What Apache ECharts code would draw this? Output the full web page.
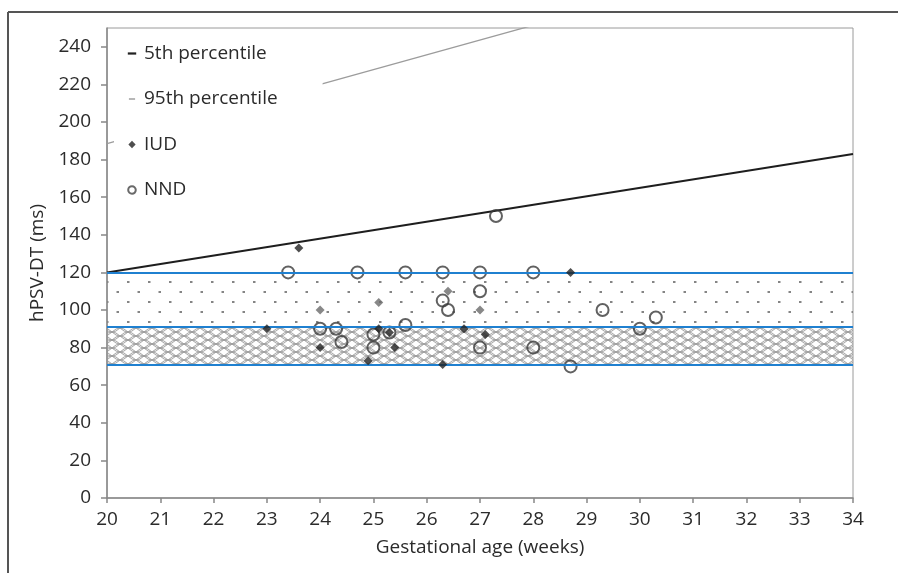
<!DOCTYPE html>
<html>
<head>
<meta charset="utf-8">
<script src="https://cdn.jsdelivr.net/npm/echarts@6/dist/echarts.min.js"></script>
<style>
html,body{margin:0;padding:0;background:#fff;}
#chart{width:898px;height:573px;}
</style>
</head>
<body>
<div id="chart"></div>
<script>
// ---- data ----
var xTicks = [20,21,22,23,24,25,26,27,28,29,30,31,32,33,34];
var yTicks = [0,20,40,60,80,100,120,140,160,180,200,220,240];
var pctAges = [20, 34];
var pct5 = [120, 183];
var pct95 = [188.5, 298.7];
var bandLines = [71, 91, 120];
var nndAge = [23.4, 24.7, 25.6, 26.3, 27.0, 28.0, 27.3, 26.3, 26.4, 27.0, 25.6, 27.0, 28.0, 29.3, 30.3, 30.0, 28.7, 24.0, 24.3, 24.4, 25.0, 25.0, 25.3];
var nndVal = [120, 120, 120, 120, 120, 120, 150, 105, 100, 110, 92, 80, 80, 100, 96, 90, 70, 90, 90, 83, 87, 80, 88];
var iudAge = [23.6, 23.0, 24.0, 24.9, 25.4, 25.1, 25.3, 26.7, 27.1, 26.3, 28.7];
var iudVal = [133, 90, 80, 73, 80, 90, 88, 90, 87, 71, 120];
var iudAge2 = [24.0, 25.1, 26.4, 27.0];
var iudVal2 = [100, 104, 110, 100];

function zip(a, b){ return a.map(function(v,i){ return [v, b[i]]; }); }

// ---- patterns ----
function dotPattern(){
  var c = document.createElement('canvas'); c.width = 21; c.height = 20;
  var g = c.getContext('2d');
  g.fillStyle = '#858585';
  g.fillRect(1, 1, 2.5, 2);
  g.fillRect(11.5, 11, 2.5, 2);
  return c;
}
function meshPattern(){
  var w = 16, h = 8;
  var c = document.createElement('canvas'); c.width = w; c.height = h;
  var g = c.getContext('2d');
  g.strokeStyle = '#9a9a9a'; g.lineWidth = 0.9;
  var centers = [[w/2,h/2],[0,0],[w,0],[0,h],[w,h]];
  centers.forEach(function(p){
    var cx = p[0], cy = p[1];
    g.beginPath();
    g.moveTo(cx - w/2, cy);
    g.quadraticCurveTo(cx, cy - h, cx + w/2, cy);
    g.quadraticCurveTo(cx, cy + h, cx - w/2, cy);
    g.stroke();
  });
  return c;
}

var font = 'Open Sans';
var fs = 19;
var txt = '#2b2b2b';
var chart = echarts.init(document.getElementById('chart'), null, {renderer:'canvas'});

var option = {
  animation: false,
  backgroundColor: '#fff',
  grid: {left:107, right:45, top:28, bottom:75, show:true, borderColor:'#9a9a9a', borderWidth:1, backgroundColor:'#fff'},
  graphic: [
    {type:'line', shape:{x1:8, y1:12, x2:898, y2:12}, style:{stroke:'#555', lineWidth:2}, z:100},
    {type:'line', shape:{x1:8, y1:12, x2:8, y2:573}, style:{stroke:'#555', lineWidth:2}, z:100}
  ],
  xAxis: {
    type:'value', min:20, max:34, interval:1,
    name:'Gestational age (weeks)', nameLocation:'middle', nameGap:40,
    nameTextStyle:{fontFamily:font, fontSize:fs, color:txt},
    axisLine:{show:true, lineStyle:{color:'#888', width:1.5}},
    axisTick:{show:true, length:5, lineStyle:{color:'#888', width:1.5}},
    axisLabel:{fontFamily:font, fontSize:fs, color:txt, margin:12, customValues: xTicks},
    splitLine:{show:false}
  },
  yAxis: {
    type:'value', min:0, max:250, interval:20,
    name:'hPSV-DT (ms)', nameLocation:'middle', nameGap:57,
    nameTextStyle:{fontFamily:font, fontSize:fs, color:txt},
    axisLine:{show:true, lineStyle:{color:'#888', width:1.5}},
    axisTick:{show:true, length:6, lineStyle:{color:'#888', width:1.5}, customValues: yTicks},
    axisLabel:{fontFamily:font, fontSize:fs, color:txt, margin:16, customValues: yTicks},
    splitLine:{show:false}
  },
  legend: {
    left:114, top:30, orient:'vertical', selectedMode:false,
    backgroundColor:'#fff', padding:[14, 45, 10, 10],
    itemWidth:14, itemHeight:14, itemGap:26.5,
    textStyle:{fontFamily:font, fontSize:fs, color:txt, lineHeight:19},
    data:[
      {name:'5th percentile', icon:'path://M0,0M10,10M2,4.2L8,4.2L8,5.8L2,5.8Z', itemStyle:{color:'#222', borderWidth:0}},
      {name:'95th percentile', icon:'path://M0,0M10,10M2.8,4.4L7.2,4.4L7.2,5.6L2.8,5.6Z', itemStyle:{color:'#aaa', borderWidth:0}},
      {name:'IUD', icon:'path://M0,0M10,10M5,2.4L7.6,5L5,7.6L2.4,5Z', itemStyle:{color:'#222', borderWidth:0}},
      {name:'NND', icon:'path://M0,0M10,10M5,2.3A2.7,2.7 0 1 1 4.99,2.3Z', itemStyle:{color:'rgba(0,0,0,0)', borderColor:'#444', borderWidth:2}}
    ]
  },
  series: [
    {
      name:'bands', type:'line', data:[], silent:true, z:1,
      markArea:{
        silent:true,
        data:[
          [{yAxis:bandLines[1], itemStyle:{color:{image:dotPattern(), repeat:'repeat'}}}, {yAxis:bandLines[2]}],
          [{yAxis:bandLines[0], itemStyle:{color:{image:meshPattern(), repeat:'repeat'}}}, {yAxis:bandLines[1]}]
        ]
      },
      markLine:{
        silent:true, symbol:'none', label:{show:false},
        lineStyle:{color:'#1f80d0', width:2, type:'solid'},
        data: bandLines.map(function(v){ return {yAxis:v}; })
      }
    },
    {
      name:'5th percentile', type:'line', data: zip(pctAges, pct5), showSymbol:false, symbol:'none',
      lineStyle:{color:'#1e1e1e', width:2}, itemStyle:{color:'#1e1e1e'}, z:3
    },
    {
      name:'95th percentile', type:'line', data: zip(pctAges, pct95), showSymbol:false, symbol:'none',
      lineStyle:{color:'#9c9c9c', width:1.3}, itemStyle:{color:'#9c9c9c'}, z:3
    },
    {
      name:'NND', type:'scatter', data: zip(nndAge, nndVal), symbol:'circle', symbolSize:12,
      itemStyle:{color:'rgba(0,0,0,0)', borderColor:'#3a3a3a', borderWidth:2}, z:4
    },
    {
      name:'IUD', type:'scatter', data: zip(iudAge, iudVal), symbol:'diamond', symbolSize:9,
      itemStyle:{color:'#222'}, z:5
    },
    {
      name:'IUD', type:'scatter', data: zip(iudAge2, iudVal2), symbol:'diamond', symbolSize:9,
      itemStyle:{color:'#6a6a6a'}, z:5
    }
  ]
};
chart.setOption(option);
</script>
</body>
</html>
